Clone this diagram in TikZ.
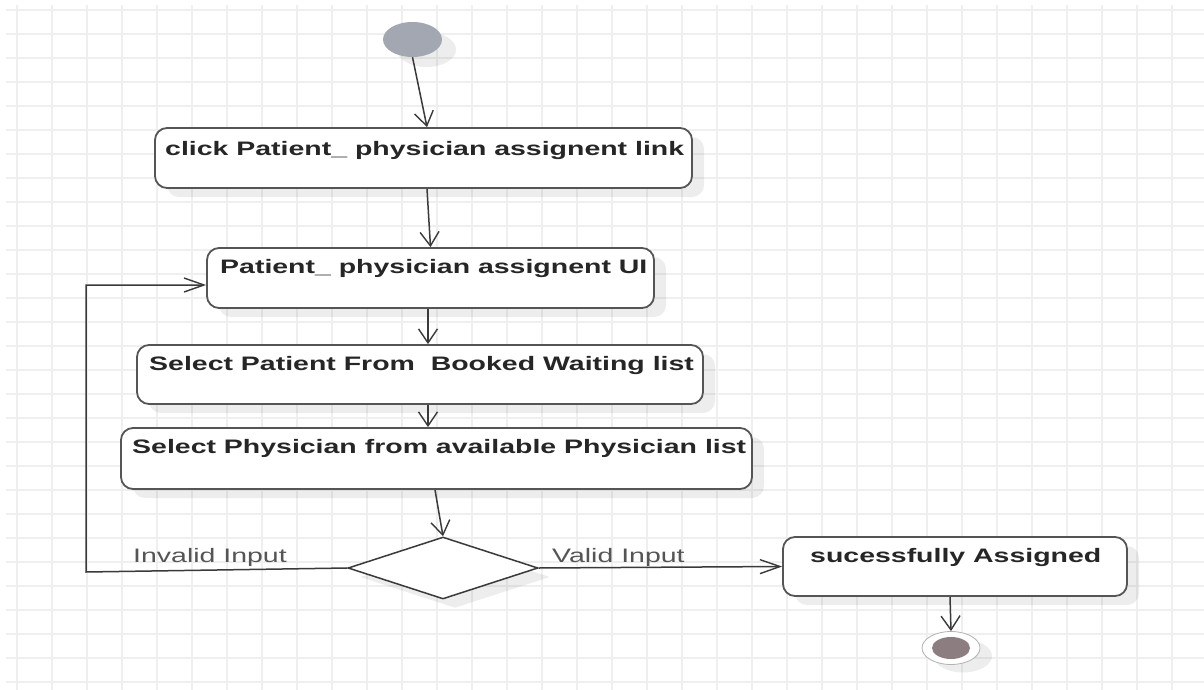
\documentclass[tikz,border=0pt]{standalone}
\usepackage{fontspec}
\setmainfont{Liberation Sans}
\usetikzlibrary{arrows.meta,shapes.geometric,shadows}
\definecolor{gridc}{HTML}{EFEFEF}
\definecolor{linec}{HTML}{3A3A3A}
\definecolor{boxc}{HTML}{555555}
\definecolor{startc}{HTML}{A3A7B2}
\definecolor{endc}{HTML}{8B7D80}
\definecolor{labc}{HTML}{555555}
\definecolor{txtc}{HTML}{262626}
\newcommand\sx[1]{\scalebox{1.46}[1]{#1}}
\tikzset{
  gridline/.style={draw=gridc, line width=1.6pt},
  shad/.style={drop shadow={shadow xshift=12pt, shadow yshift=-9pt, fill=black, opacity=0.07}},
  actbox/.style={draw=boxc, line width=1.8pt, rounded corners=12pt, fill=white, shad, inner sep=0pt},
  acttext/.style={anchor=base west, inner sep=0pt, text=txtc, font=\fontsize{19.5}{22}\selectfont\bfseries},
  lab/.style={anchor=base west, inner sep=0pt, text=labc, font=\fontsize{19.5}{22}\selectfont},
  conn/.style={draw=linec, line width=1.5pt},
  varr/.style={conn, -{Straight Barb[length=14pt,width=19pt,line width=1.4pt]}},
  harr/.style={conn, -{Straight Barb[length=20pt,width=14pt,line width=1.4pt]}},
  decision/.style={diamond, draw=linec, line width=1.5pt, fill=white, inner sep=0pt, shad},
}
\begin{document}
\begin{tikzpicture}[x=1pt, y=-1pt]
\useasboundingbox (0,0) rectangle (1204,690);
\fill[white] (0,0) rectangle (1204,690);
% grid
\foreach \gx in {17,52,...,1172} \draw[gridline] (\gx,5) -- (\gx,690);
\foreach \gy in {10,34,...,682} \draw[gridline] (6,\gy) -- (1204,\gy);
% start
\node[ellipse, fill=startc, minimum width=59pt, minimum height=35pt, inner sep=0pt,
      drop shadow={shadow xshift=14pt, shadow yshift=-10pt, fill=black, opacity=0.07}] (s) at (412.5,39.5) {};
% boxes
\node[actbox, minimum width=537pt, minimum height=60pt] (b1) at (423.5,158) {};
\node[actbox, minimum width=447pt, minimum height=60pt] (b2) at (430.5,278) {};
\node[actbox, minimum width=566pt, minimum height=59pt] (b3) at (420,374.5) {};
\node[actbox, minimum width=631pt, minimum height=61pt] (b4) at (436.5,458.5) {};
\node[actbox, minimum width=344pt, minimum height=59pt] (b5) at (955,566.5) {};
\node[decision, minimum width=190pt, minimum height=62pt] (d) at (443,568) {};
% texts
\node[acttext] (t1) at (165,155) {\sx{click Patient\_ physician assignent link}};
\node[acttext] (t2) at (220,273) {\sx{Patient\_ physician assignent UI}};
\node[acttext] (t3) at (149,370) {\sx{Select Patient From\ \ Booked Waiting list}};
\node[acttext] (t4) at (132,453) {\sx{Select Physician from available Physician list}};
\node[acttext] (t5) at (810,562) {\sx{sucessfully Assigned}};
% end
\node[ellipse, draw=gray!60, line width=0.8pt, fill=white, minimum width=58pt, minimum height=33pt, inner sep=0pt,
      drop shadow={shadow xshift=12pt, shadow yshift=-8pt, fill=black, opacity=0.07}] (e) at (951,648) {};
\node[ellipse, fill=endc, minimum width=38pt, minimum height=22pt, inner sep=0pt] (ei) at (e.center) {};
% connectors
\draw[varr] (s.south) -- ([xshift=3.5pt]b1.north);
\draw[varr] ([xshift=3.5pt]b1.south) -- (b2.north);
\draw[varr] ([xshift=-2.5pt]b2.south) -- ([xshift=8pt]b3.north);
\draw[varr] ([xshift=8pt]b3.south) -- ([xshift=-8.5pt]b4.north);
\draw[varr] ([xshift=-1.5pt]b4.south) -- (d.north);
\draw[varr] ([xshift=-5pt]b5.south) -- (e.north);
\coordinate (c1) at (86,572);
\draw[harr] (d.west) -- (c1) |- ([yshift=-7pt]b2.west);
\draw[harr] (d.east) -- (b5.west);
% labels
\node[lab] (l1) at (133,562) {\sx{Invalid Input}};
\node[lab] (l2) at (552,562) {\sx{Valid Input}};
\end{tikzpicture}
\end{document}
